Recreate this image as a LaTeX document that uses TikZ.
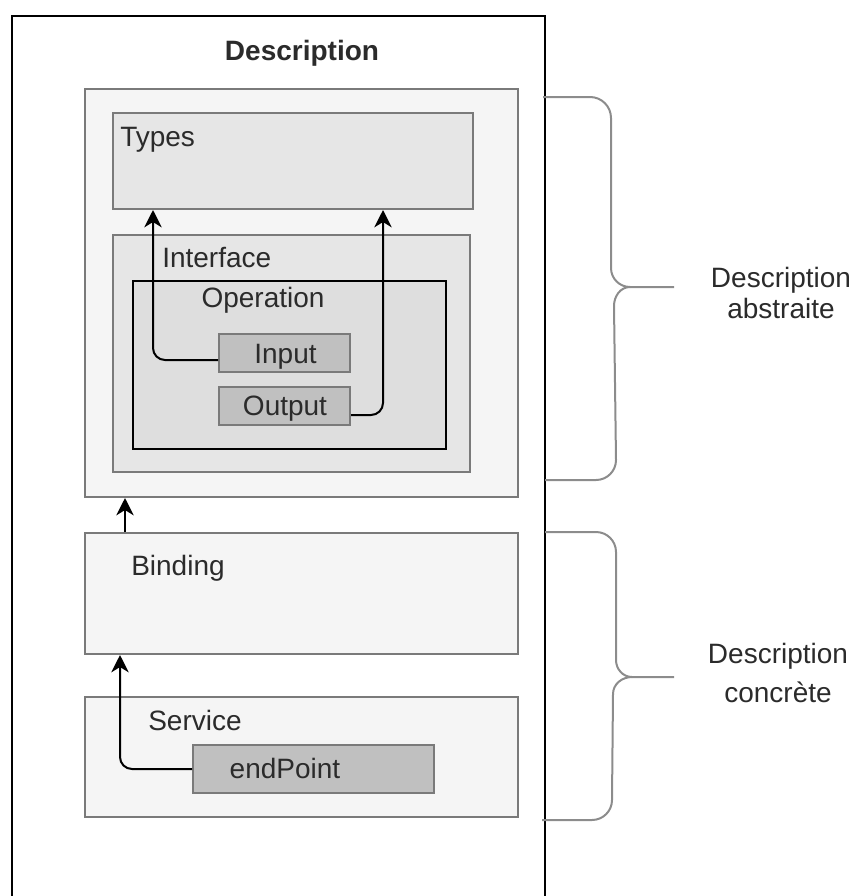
\documentclass[tikz,border=0pt]{standalone}
\usepackage{fontspec}
\setmainfont{Liberation Sans}
\usetikzlibrary{arrows.meta,calc}
\definecolor{txt}{HTML}{2B2B2B}
\definecolor{edge}{HTML}{7A7A7A}
\definecolor{fillA}{HTML}{F5F5F5}
\definecolor{fillB}{HTML}{E6E6E6}
\definecolor{fillC}{HTML}{DEDEDE}
\definecolor{fillD}{HTML}{C0C0C0}
\definecolor{bracec}{HTML}{8C8C8C}
\begin{document}
\begin{tikzpicture}[x=0.75pt,y=-0.75pt,
  blk/.style={draw=edge, line width=1.5pt, inner sep=0pt, anchor=north west},
  sz/.style 2 args={minimum width=#1*0.75pt, minimum height=#2*0.75pt},
  lbl/.style={text=txt, inner sep=0pt, font=\fontsize{21}{25}\selectfont},
  arr/.style={draw=black, line width=1.5pt, -{Stealth[length=13pt,width=13pt,inset=4pt]}, rounded corners=9pt},
  brace/.style={draw=bracec, line width=1.5pt}]
\useasboundingbox (0,0) rectangle (858,896);
\clip (0,0) rectangle (858,896);
% outer frame
\node[draw=black, line width=1.5pt, fill=white, inner sep=0pt, anchor=north west, sz={533}{900}] (outer) at (11,15) {};
\node[lbl, font=\bfseries\fontsize{21}{25}\selectfont, anchor=base] (title) at (302,60) {Description};
% abstract part
\node[blk, fill=fillA, sz={433}{408}] (abstract) at (84,88) {};
\node[blk, fill=fillB, sz={360}{96}] (types) at (112,112) {};
\node[lbl, anchor=base west] (typeslbl) at (120,146) {Types};
\node[blk, fill=fillB, sz={357}{237}] (interface) at (112,234) {};
\node[lbl, anchor=base west] (interfacelbl) at (162,267) {Interface};
\node[blk, draw=black, fill=fillC, sz={313}{168}] (operation) at (132,280) {};
\node[lbl, anchor=base] (operationlbl) at (263,307) {Operation};
\node[blk, fill=fillD, sz={131}{38}] (input) at (218,333) {};
\node[lbl, anchor=base] (inputlbl) at (285.5,363) {Input};
\node[blk, fill=fillD, sz={131}{38}] (output) at (218,386) {};
\node[lbl, anchor=base] (outputlbl) at (285,415) {Output};
% concrete part
\node[blk, fill=fillA, sz={433}{121}] (binding) at (84,532) {};
\node[lbl, anchor=base west] (bindinglbl) at (131,575) {Binding};
\node[blk, fill=fillA, sz={433}{120}] (service) at (84,696) {};
\node[lbl, anchor=base west] (servicelbl) at (148,730) {Service};
\node[blk, fill=fillD, sz={241}{48}] (endpoint) at (192,744) {};
\node[lbl, anchor=base] (endpointlbl) at (285,778) {endPoint};
% connectors
\draw[arr] ($(input.west)+(0,7)$) -| ($(types.south west)+(41,0)$);
\draw[arr] ($(output.east)+(0,9)$) -| ($(types.south west)+(271,0)$);
\draw[arr] ($(binding.north west)+(41,0)$) -- ($(abstract.south west)+(41,0)$);
\draw[arr] (endpoint.west) -| ($(binding.south west)+(36,0)$);
% braces
\draw[brace] (543,97) -- (590,97) to[out=0,in=90] (611,118) -- (611,268) to[out=-90,in=180] (630,287) -- (674,287);
\draw[brace] (630,287) to[out=180,in=90] (614,306) -- (616,460) to[out=-90,in=0] (596,480) -- (545,480);
\draw[brace] (545,532) -- (596,532) to[out=0,in=90] (616,552) -- (616,660) to[out=-90,in=180] (632,677) -- (674,677);
\draw[brace] (632,677) to[out=180,in=90] (613,694) -- (612,800) to[out=-90,in=0] (592,820) -- (542,820);
\node[lbl, align=center, anchor=north, font=\fontsize{21}{23.25}\selectfont] (abslbl) at (781,267) {Description\\abstraite};
\node[lbl, align=center, anchor=north, font=\fontsize{21}{29.25}\selectfont] (conclbl) at (778,643) {Description\\concrète};
\end{tikzpicture}
\end{document}
